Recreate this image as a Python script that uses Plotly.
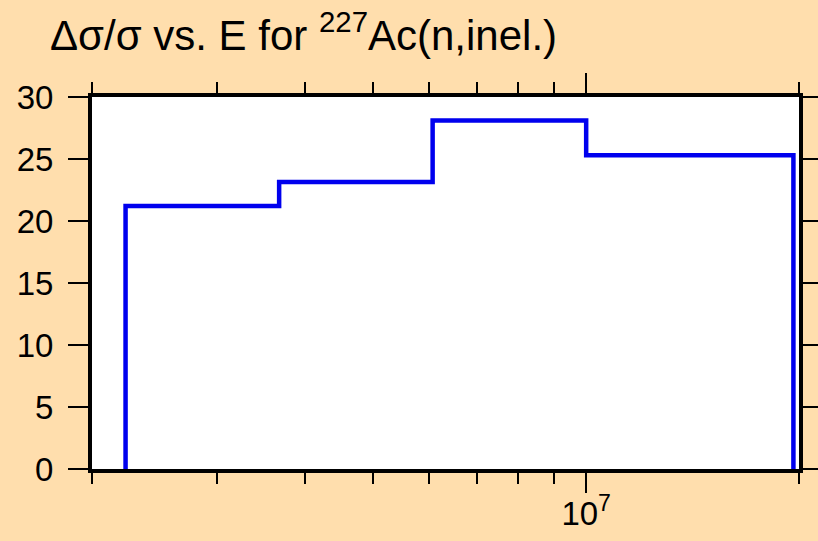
import plotly.graph_objects as go

# energy group boundaries (eV) and relative uncertainty (%) per group
bin_edges = [2.231e6, 3.679e6, 6.065e6, 1.0e7, 1.964e7]
rel_unc = [21.2, 23.15, 28.1, 25.3]

major_tickvals = [1e7]
major_ticktext = ["10<sup>7</sup>"]
minor_tickvals = [2e6, 3e6, 4e6, 5e6, 6e6, 7e6, 8e6, 9e6, 2e7]
y_tickvals = [0, 5, 10, 15, 20, 25, 30]

# build the closed histogram outline
xs = [bin_edges[0]]
ys = [0]
for i, v in enumerate(rel_unc):
    xs += [bin_edges[i], bin_edges[i + 1]]
    ys += [v, v]
xs.append(bin_edges[-1])
ys.append(0)

fig = go.Figure()
fig.add_trace(go.Scatter(x=xs, y=ys, mode="lines",
                         line=dict(color="#0000EE", width=4.5),
                         showlegend=False, hoverinfo="skip"))

font = "Liberation Sans, Arial, sans-serif"
fig.update_layout(
    width=818, height=541,
    paper_bgcolor="#FFDEAD", plot_bgcolor="white",
    margin=dict(l=92, r=19, t=97, b=72),
    font=dict(family=font, size=33, color="black"),
    title=dict(text="\u0394\u03c3/\u03c3 vs. E for <sup>227</sup>Ac(n,inel.)",
               font=dict(size=42, family=font, color="black"),
               x=50 / 818, xanchor="left", xref="container",
               y=1 - 35 / 541, yanchor="middle", yref="container"),
)
fig.update_xaxes(type="log", range=[6.30103, 7.30103], automargin=False,
                 tickmode="array", tickvals=major_tickvals, ticktext=major_ticktext,
                 ticks="outside", ticklen=20, tickwidth=2, tickcolor="black",
                 minor=dict(tickmode="array", tickvals=minor_tickvals,
                            ticks="outside", ticklen=11, tickwidth=2, tickcolor="black",
                            showgrid=False),
                 showline=True, linewidth=4, linecolor="black", mirror="allticks",
                 showgrid=False, zeroline=False, ticklabelstandoff=-8)
fig.update_yaxes(range=[0, 30], tickmode="array", tickvals=y_tickvals, automargin=False,
                 ticks="outside", ticklen=20, tickwidth=2, tickcolor="black",
                 showline=True, linewidth=4, linecolor="black", mirror="allticks",
                 showgrid=False, zeroline=False, ticklabelstandoff=8)

fig.write_html("out.html", config={"displayModeBar": False},
               post_script="document.body.style.margin='0';")
